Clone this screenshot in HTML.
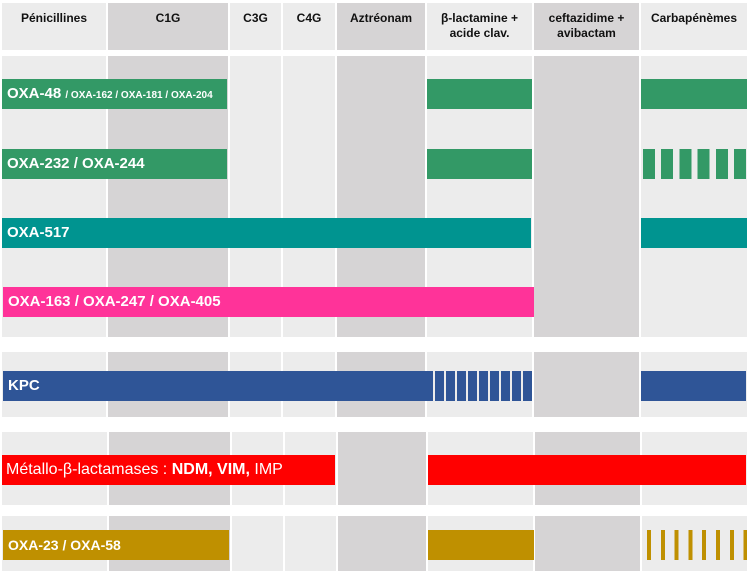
<!DOCTYPE html>
<html><head><meta charset="utf-8"><style>
body{margin:0;width:747px;height:571px;background:#fff;position:relative;overflow:hidden;font-family:"Liberation Sans",sans-serif}
div{position:absolute;box-sizing:border-box}
.l{background:#ececec}.d{background:#d6d4d5}
.h{font-weight:bold;font-size:12px;color:#111;text-align:center;line-height:15px;padding-top:8px}
.b{color:#fff;font-weight:bold;font-size:15px;line-height:30px;padding-left:5px;white-space:nowrap}
</style></head><body>
<!-- header -->
<div class="l h" style="left:2px;top:3px;width:104px;height:47px">Pénicillines</div>
<div class="d h" style="left:108px;top:3px;width:120px;height:47px">C1G</div>
<div class="l h" style="left:230px;top:3px;width:51px;height:47px">C3G</div>
<div class="l h" style="left:283px;top:3px;width:52px;height:47px">C4G</div>
<div class="d h" style="left:337px;top:3px;width:88px;height:47px">Aztréonam</div>
<div class="l h" style="left:427px;top:3px;width:105px;height:47px">β-lactamine +<br>acide clav.</div>
<div class="d h" style="left:534px;top:3px;width:105px;height:47px">ceftazidime +<br>avibactam</div>
<div class="l h" style="left:641px;top:3px;width:106px;height:47px">Carbapénèmes</div>
<!-- block backgrounds -->
<div class="l" style="left:2px;top:56px;width:104px;height:281px"></div>
<div class="d" style="left:108px;top:56px;width:120px;height:281px"></div>
<div class="l" style="left:230px;top:56px;width:51px;height:281px"></div>
<div class="l" style="left:283px;top:56px;width:52px;height:281px"></div>
<div class="d" style="left:337px;top:56px;width:88px;height:281px"></div>
<div class="l" style="left:427px;top:56px;width:105px;height:281px"></div>
<div class="d" style="left:534px;top:56px;width:105px;height:281px"></div>
<div class="l" style="left:641px;top:56px;width:106px;height:281px"></div>

<div class="l" style="left:2px;top:352px;width:104px;height:65px"></div>
<div class="d" style="left:108px;top:352px;width:120px;height:65px"></div>
<div class="l" style="left:230px;top:352px;width:51px;height:65px"></div>
<div class="l" style="left:283px;top:352px;width:52px;height:65px"></div>
<div class="d" style="left:337px;top:352px;width:88px;height:65px"></div>
<div class="l" style="left:427px;top:352px;width:105px;height:65px"></div>
<div class="d" style="left:534px;top:352px;width:105px;height:65px"></div>
<div class="l" style="left:641px;top:352px;width:106px;height:65px"></div>

<div class="l" style="left:2px;top:432px;width:105px;height:73px"></div>
<div class="d" style="left:109px;top:432px;width:121px;height:73px"></div>
<div class="l" style="left:232px;top:432px;width:51px;height:73px"></div>
<div class="l" style="left:285px;top:432px;width:51px;height:73px"></div>
<div class="d" style="left:338px;top:432px;width:88px;height:73px"></div>
<div class="l" style="left:428px;top:432px;width:105px;height:73px"></div>
<div class="d" style="left:535px;top:432px;width:105px;height:73px"></div>
<div class="l" style="left:642px;top:432px;width:105px;height:73px"></div>

<div class="l" style="left:2px;top:516px;width:105px;height:55px"></div>
<div class="d" style="left:109px;top:516px;width:121px;height:55px"></div>
<div class="l" style="left:232px;top:516px;width:51px;height:55px"></div>
<div class="l" style="left:285px;top:516px;width:51px;height:55px"></div>
<div class="d" style="left:338px;top:516px;width:88px;height:55px"></div>
<div class="l" style="left:428px;top:516px;width:105px;height:55px"></div>
<div class="d" style="left:535px;top:516px;width:105px;height:55px"></div>
<div class="l" style="left:642px;top:516px;width:105px;height:55px"></div>

<!-- bars -->
<div class="b" style="left:2px;top:79px;width:225px;height:30px;background:#339966">OXA-48 <span style="font-size:10px">/ OXA-162 / OXA-181 / OXA-204</span></div>
<div style="left:427px;top:79px;width:105px;height:30px;background:#339966"></div>
<div style="left:641px;top:79px;width:106px;height:30px;background:#339966"></div>

<div class="b" style="left:2px;top:149px;width:225px;height:30px;background:#339966">OXA-232 / OXA-244</div>
<div style="left:427px;top:149px;width:105px;height:30px;background:#339966"></div>
<div style="left:643px;top:149px;width:104px;height:30px;background:repeating-linear-gradient(90deg,#339966 0 12px,transparent 12px 18.2px)"></div>

<div class="b" style="left:2px;top:218px;width:529px;height:30px;background:#009490">OXA-517</div>
<div style="left:641px;top:218px;width:106px;height:30px;background:#009490"></div>

<div class="b" style="left:3px;top:287px;width:531px;height:30px;background:#ff3399">OXA-163 / OXA-247 / OXA-405</div>

<div class="b" style="left:3px;top:371px;width:430px;height:30px;background:#2f5597">KPC</div>
<div style="left:435px;top:371px;width:98px;height:30px;background:repeating-linear-gradient(90deg,#2f5597 0 9px,transparent 9px 11px)"></div>
<div style="left:641px;top:371px;width:105px;height:30px;background:#2f5597"></div>

<div class="b" style="left:2px;top:455px;width:333px;height:30px;background:#ff0000;font-weight:normal;font-size:16px;padding-left:4px">Métallo-β-lactamases : <b>NDM, VIM,</b> IMP</div>
<div style="left:428px;top:455px;width:318px;height:30px;background:#ff0000"></div>

<div class="b" style="left:3px;top:530px;width:226px;height:30px;background:#bf9000;font-size:14px">OXA-23 / OXA-58</div>
<div style="left:428px;top:530px;width:106px;height:30px;background:#bf9000"></div>
<div style="left:647px;top:530px;width:100px;height:30px;background:repeating-linear-gradient(90deg,#bf9000 0 4px,transparent 4px 13.8px)"></div>
</body></html>
